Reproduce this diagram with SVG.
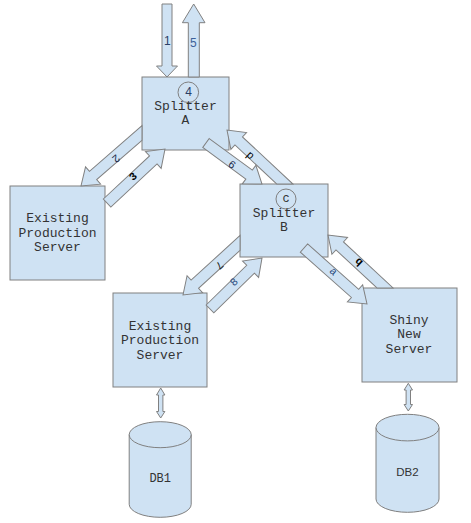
<svg xmlns="http://www.w3.org/2000/svg" width="471" height="523" viewBox="0 0 471 523">
<style>
.box{fill:#cfe2f3;stroke:#808080;stroke-width:1}
.ring{fill:none;stroke:#808080;stroke-width:1}
.arr{fill:#cfe2f3;stroke:#808080;stroke-width:1;stroke-linejoin:miter}
.t{font-family:"Liberation Mono","DejaVu Sans Mono",monospace;font-size:13px;fill:#333;text-anchor:middle}
.lab{font-family:"Liberation Mono","DejaVu Sans Mono",monospace;font-size:11px;fill:#1c2b4a;text-anchor:middle;dominant-baseline:central}
.bold{font-weight:bold;fill:#000}
.sans{font-family:"Liberation Sans",Arial,sans-serif;font-size:12px;fill:#2a3f66;text-anchor:middle;dominant-baseline:central}
</style>
<rect width="471" height="523" fill="#fff"/>
<g id="splitter-a">
<rect class="box" x="142" y="77" width="87" height="73"/>
<circle class="ring" cx="188.3" cy="92.3" r="10.3"/>
<text class="sans" x="188.5" y="92" fill="#333">4</text>
<text class="t" x="185.5" y="110">Splitter</text>
<text class="t" x="185.5" y="124">A</text>
</g>
<g id="existing-1">
<rect class="box" x="10" y="186" width="95" height="94"/>
<text class="t" x="57.5" y="222">Existing</text>
<text class="t" x="57.5" y="236.5">Production</text>
<text class="t" x="57.5" y="251">Server</text>
</g>
<g id="splitter-b">
<rect class="box" x="240" y="184" width="88" height="73"/>
<circle class="ring" cx="286" cy="199" r="10"/>
<text class="lab" x="286" y="198.5" style="font-size:12px;fill:#333">c</text>
<text class="t" x="284" y="217">Splitter</text>
<text class="t" x="284" y="231">B</text>
</g>
<g id="existing-2">
<rect class="box" x="113" y="293" width="94" height="94"/>
<text class="t" x="160" y="329.5">Existing</text>
<text class="t" x="160" y="344">Production</text>
<text class="t" x="160" y="358.5">Server</text>
</g>
<g id="shiny">
<rect class="box" x="362" y="288" width="95" height="94"/>
<text class="t" x="409" y="323.5">Shiny</text>
<text class="t" x="409" y="338">New</text>
<text class="t" x="409" y="352.5">Server</text>
</g>
<g id="db1">
<path class="box" d="M129.2,434.7 L129.2,504.3 A31,13 0 0 0 191.2,504.3 L191.2,434.7 Z"/>
<ellipse class="box" cx="160.2" cy="434.7" rx="31" ry="13"/>
<text class="t" x="160.2" y="482" style="font-size:12px">DB1</text>
</g>
<g id="db2">
<path class="box" d="M376,427.6 L376,499 A31.5,13.3 0 0 0 439,499 L439,427.6 Z"/>
<ellipse class="box" cx="407.5" cy="427.6" rx="31.5" ry="13.3"/>
<text class="sans" x="407.5" y="472" style="font-size:11.5px;fill:#333">DB2</text>
</g>
<g id="connectors">
<polygon class="arr" points="162,4 172,4 172,66 177.5,66 167,77 156.5,66 162,66"/>
<polygon class="arr" points="188.3,77 199.3,77 199.3,22.7 205,22.7 193.7,4 182.4,22.7 188.3,22.7"/>
<polygon class="arr" transform="translate(81,186) rotate(139)" points="-76,-5.5 -16,-5.5 -16,-11.5 0,0 -16,11.5 -16,5.5 -85.6,5.5"/>
<polygon class="arr" transform="translate(165,149) rotate(-43)" points="-79.2,-5.5 -16,-5.5 -16,-11.5 0,0 -16,11.5 -16,5.5 -79.2,5.5"/>
<polygon class="arr" transform="translate(262,184) rotate(36.2)" points="-69.4,-5.5 -16,-5.5 -16,-11.5 0,0 -16,11.5 -16,5.5 -69.4,5.5"/>
<polygon class="arr" transform="translate(227,130) rotate(-137)" points="-73.3,-5.5 -16,-5.5 -16,-11.5 0,0 -16,11.5 -16,5.5 -85.1,5.5"/>
<polygon class="arr" transform="translate(183,295) rotate(137.6)" points="-72.2,-5.5 -16,-5.5 -16,-11.5 0,0 -16,11.5 -16,5.5 -82.3,5.5"/>
<polygon class="arr" transform="translate(262,258) rotate(-44.4)" points="-72.8,-5.5 -16,-5.5 -16,-11.5 0,0 -16,11.5 -16,5.5 -72.8,5.5"/>
<polygon class="arr" transform="translate(367,304) rotate(41.6)" points="-84.3,-5.5 -16,-5.5 -16,-11.5 0,0 -16,11.5 -16,5.5 -84.3,5.5"/>
<polygon class="arr" transform="translate(328,235) rotate(-137.1)" points="-71.9,-5.5 -16,-5.5 -16,-11.5 0,0 -16,11.5 -16,5.5 -83.7,5.5"/>
<polygon class="arr" points="160.7,388 164.9,395 162.9,395 162.9,411.5 164.9,411.5 160.7,418 156.5,411.5 158.5,411.5 158.5,395 156.5,395"/>
<polygon class="arr" points="408.3,383.3 412.5,390 410.5,390 410.5,404.5 412.5,404.5 408.3,411 404.1,404.5 406.1,404.5 406.1,390 404.1,390"/>
<text class="sans" x="167.3" y="40.7" fill="#223355">1</text>
<text class="sans" x="193.3" y="43.3" style="fill:#3d6199">5</text>
<text class="lab" transform="translate(115.7,158.3) rotate(139)">2</text>
<text class="lab bold" transform="translate(133.3,176.7) rotate(-43)">3</text>
<text class="lab" transform="translate(231.7,165) rotate(36.2)">6</text>
<text class="lab" transform="translate(250,155.7) rotate(-137)" style="fill:#000">d</text>
<text class="lab" transform="translate(219,265) rotate(137.6)" style="fill:#222">7</text>
<text class="lab" transform="translate(234.3,282.3) rotate(-44.4)" style="fill:#2b4c7e">8</text>
<text class="lab" transform="translate(333.3,271.7) rotate(41.6)" style="fill:#2b4c7e">a</text>
<text class="lab bold" transform="translate(359,261.7) rotate(-137.1)">b</text>
</g>
</svg>
